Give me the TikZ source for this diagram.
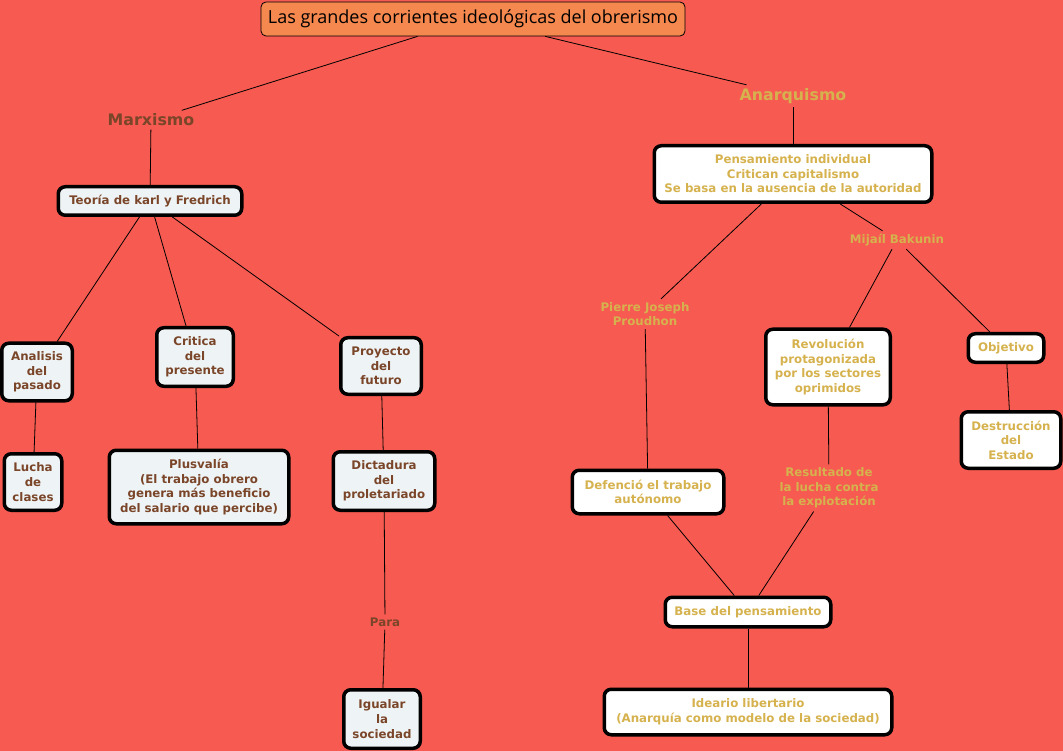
\documentclass[tikz,border=0pt]{standalone}
\usepackage{fontspec}
\usepackage{tikz}
\usetikzlibrary{positioning}
\usepackage{xcolor}

\newfontfamily\verdfont{DejaVu Sans}
\newfontfamily\titlefont{Open Sans}
\newcommand{\boxfont}{\verdfont\bfseries\fontsize{11.8}{14.6}\selectfont}
\newcommand{\bigfont}{\verdfont\bfseries\fontsize{15.8}{18}\selectfont}

\definecolor{bgred}{HTML}{F65A50}
\definecolor{titleorange}{HTML}{F4884E}
\definecolor{boxgray}{HTML}{EEF4F5}
\definecolor{txtbrown}{HTML}{7A4529}
\definecolor{txtgold}{HTML}{D6B24E}

\tikzset{
  mbox/.style={draw=black, line width=3.5pt, rounded corners=7pt, fill=boxgray,
    text=txtbrown, font=\boxfont, align=center, inner sep=2pt},
  abox/.style={mbox, fill=white, text=txtgold},
  mlabel/.style={text=txtbrown, font=\boxfont, align=center, inner sep=3pt},
  alabel/.style={text=txtgold, font=\boxfont, align=center, inner sep=3pt},
  link/.style={draw=black, line width=0.8pt}
}

\begin{document}
\begin{tikzpicture}[x=1pt, y=-1pt]
        % Background
        \useasboundingbox (0,0) rectangle (1063,751);
        \fill[bgred] (0,0) rectangle (1063,751);

        % Title
        \node[draw=black, line width=0.8pt, rounded corners=5pt, fill=titleorange,
              minimum width=424pt, minimum height=34pt,
              font=\titlefont\fontsize{18}{21}\selectfont] (title) at (473,19)
              {Las grandes corrientes ideológicas del obrerismo};

        % Main branches
        \node[text=txtbrown, font=\bigfont] (marx) at (151,120) {Marxismo};
        \node[text=txtgold, font=\bigfont] (anar) at (793,96) {Anarquismo};

        % Marxismo
        \node[mbox, minimum width=183.5pt, minimum height=28.5pt] (teoria) at (150,201) {Teoría de karl y Fredrich};
        \node[mbox, minimum width=70.5pt, minimum height=57.5pt] (analisis) at (37,372) {Analisis\\del\\pasado};
        \node[mbox, minimum width=76.5pt, minimum height=58.5pt] (critica) at (195,357) {Critica\\del\\presente};
        \node[mbox, minimum width=80.5pt, minimum height=56.5pt] (proyecto) at (381,366) {Proyecto\\del\\futuro};
        \node[mbox, minimum width=57.5pt, minimum height=56.5pt] (lucha) at (33,482) {Lucha\\de\\clases};
        \node[mbox, minimum width=179.5pt, minimum height=73.5pt] (plusvalia) at (199,487)
              {Plusvalía\\(El trabajo obrero\\genera más beneficio\\del salario que percibe)};
        \node[mbox, minimum width=101.5pt, minimum height=58.5pt] (dictadura) at (384,481) {Dictadura\\del\\proletariado};
        \node[mlabel] (para) at (385,622) {Para};
        \node[mbox, minimum width=76.5pt, minimum height=58.5pt] (igualar) at (382,719) {Igualar\\la\\sociedad};

        % Anarquismo
        \node[abox, minimum width=277.5pt, minimum height=56.5pt] (pensamiento) at (793,174)
              {Pensamiento individual\\Critican capitalismo\\Se basa en la ausencia de la autoridad};
        \node[alabel] (bakunin) at (897,240) {Mijaíl Bakunin};
        \node[alabel] (proudhon) at (645,314) {Pierre Joseph\\Proudhon};
        \node[abox, minimum width=124.5pt, minimum height=75.5pt] (revolucion) at (828,367)
              {Revolución\\protagonizada\\por los sectores\\oprimidos};
        \node[abox, minimum width=75.5pt, minimum height=28.5pt] (objetivo) at (1006,348) {Objetivo};
        \node[abox, minimum width=99.5pt, minimum height=56.5pt] (destruccion) at (1011,440) {Destrucción\\del\\Estado};
        \node[abox, minimum width=151.5pt, minimum height=43.5pt] (defencio) at (648,492) {Defenció el trabajo\\autónomo};
        \node[alabel] (resultado) at (829,488) {Resultado de\\la lucha contra\\la explotación};
        \node[abox, minimum width=165.5pt, minimum height=29.5pt] (base) at (748,612) {Base del pensamiento};
        \node[abox, minimum width=287.5pt, minimum height=45.5pt] (ideario) at (748,712)
              {Ideario libertario\\(Anarquía como modelo de la sociedad)};

        % Connectors
        \draw[link] (title) -- (marx);
        \draw[link] (title) -- (anar);
        \draw[link] (marx) -- (teoria);
        \draw[link] (anar) -- (pensamiento);
        \draw[link] (teoria) -- (analisis);
        \draw[link] (teoria) -- (critica);
        \draw[link] (teoria) -- (proyecto);
        \draw[link] (analisis) -- (lucha);
        \draw[link] (critica) -- (plusvalia);
        \draw[link] (proyecto) -- (dictadura);
        \draw[link] (dictadura) -- (para);
        \draw[link] (para) -- (igualar);
        \draw[link] (pensamiento) -- (proudhon);
        \draw[link] (pensamiento) -- (bakunin);
        \draw[link] (bakunin) -- (revolucion);
        \draw[link] (bakunin) -- (objetivo);
        \draw[link] (objetivo) -- (destruccion);
        \draw[link] (proudhon) -- (defencio);
        \draw[link] (revolucion) -- (resultado);
        \draw[link] (defencio) -- (base);
        \draw[link] (resultado) -- (base);
        \draw[link] (base) -- (ideario);
    \end{tikzpicture}
\end{document}
